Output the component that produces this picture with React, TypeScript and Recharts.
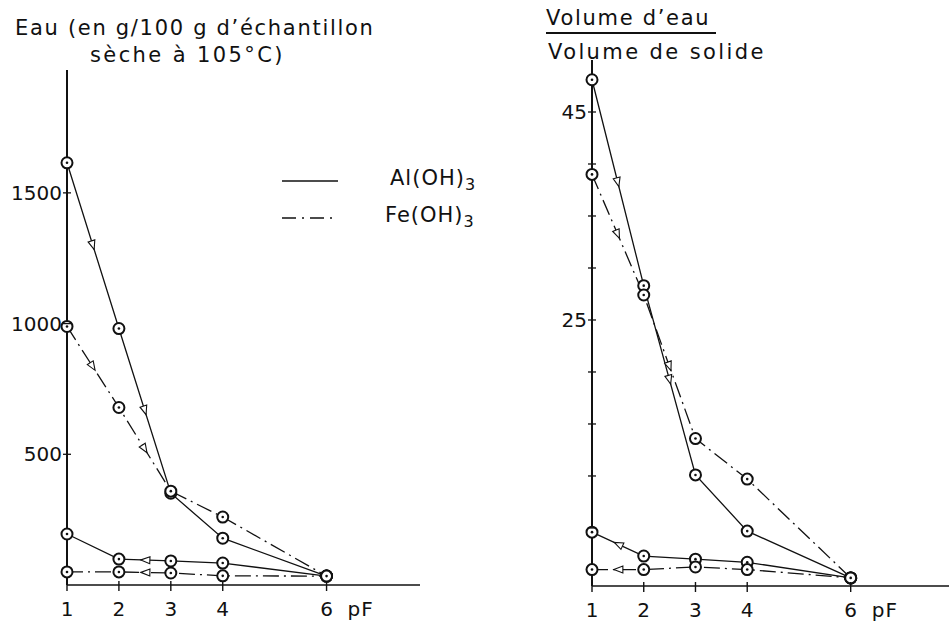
import React from 'react';
import { LineChart, Line, XAxis, YAxis, Legend } from 'recharts';

// pF steps (x axis)
const pF = [1, 2, 3, 4, 6];
const xTicks = [1, 2, 3, 4, 6];

// left panel: Eau en g/100 g d'échantillon sèche à 105°C
const leftAlDry = [1615, 981, 351, 179, 34];
const leftAlWet = [195, 99, 92, 84, 34];
const leftFeDry = [989, 679, 359, 260, 34];
const leftFeWet = [50, 50, 46, 35, 34];
const leftYTicks = [500, 1000, 1500];

// right panel: volume d'eau / volume de solide
const rightAlDry = [48.1, 28.3, 10.1, 4.7, 0.2];
const rightAlWet = [4.6, 2.3, 2.0, 1.7, 0.2];
const rightFeDry = [39.0, 27.4, 13.6, 9.7, 0.2];
const rightFeWet = [1.0, 1.0, 1.25, 1.0, 0.2];
const rightYTicks = [5, 10, 15, 20, 25, 30, 35, 40, 45];
const rightYLabels = [25, 45];

const seriesNames = ['Al(OH)', 'Fe(OH)'];

const FONT = '"DejaVu Sans", sans-serif';
const DASH_DOT = '16 5 2 5';

function buildRows(alDry: number[], alWet: number[], feDry: number[], feWet: number[]) {
  return pF.map((p, i) => ({ pF: p, alDry: alDry[i], alWet: alWet[i], feDry: feDry[i], feWet: feWet[i] }));
}

const leftData = buildRows(leftAlDry, leftAlWet, leftFeDry, leftFeWet);
const rightData = buildRows(rightAlDry, rightAlWet, rightFeDry, rightFeWet);

// circle marker, plus an open arrowhead halfway along the chosen segments
function makeDot(arrowSegs: number[], backwards: boolean) {
  return (props: any) => {
    const { cx, cy, index, points } = props;
    let arrow = null;
    if (points && arrowSegs.includes(index) && points[index + 1]) {
      const a = points[index];
      const b = points[index + 1];
      const mx = (a.x + b.x) / 2;
      const my = (a.y + b.y) / 2;
      let ang = Math.atan2(b.y - a.y, b.x - a.x);
      if (backwards) ang += Math.PI;
      const deg = (ang * 180) / Math.PI;
      arrow = (
        <polygon
          points="4,0 -5,-3.5 -5,3.5"
          transform={`translate(${mx},${my}) rotate(${deg})`}
          fill="#fff"
          stroke="#111"
          strokeWidth={1.1}
        />
      );
    }
    return (
      <g key={`d-${index}`}>
        {arrow}
        <circle cx={cx} cy={cy} r={5.5} fill="#fff" stroke="#111" strokeWidth={2} />
        <circle cx={cx} cy={cy} r={1.3} fill="#111" />
      </g>
    );
  };
}

function XTick(props: any) {
  const { x, y, payload } = props;
  return (
    <g>
      <line x1={x} x2={x} y1={y - 4} y2={y + 6} stroke="#111" strokeWidth={1.4} />
      <text x={x} y={y + 31} textAnchor="middle" fontFamily={FONT} fontSize={20} fill="#111">
        {payload.value}
      </text>
      {payload.value === 6 && (
        <text x={x + 21} y={y + 31} textAnchor="start" fontFamily={FONT} fontSize={20} fill="#111" letterSpacing={1}>
          pF
        </text>
      )}
    </g>
  );
}

function makeYTick(labels: number[] | null) {
  return (props: any) => {
    const { x, y, payload } = props;
    const show = labels === null || labels.includes(payload.value);
    return (
      <g>
        <line x1={x - 4} x2={x + 4} y1={y} y2={y} stroke="#111" strokeWidth={1.3} />
        {show && (
          <text x={x - 5} y={y + 7} textAnchor="end" fontFamily={FONT} fontSize={20} fill="#111">
            {payload.value}
          </text>
        )}
      </g>
    );
  };
}

function LegendBox() {
  const row = (dash: string | undefined, name: string, indent: number) => (
    <div style={{ display: 'flex', alignItems: 'center', height: 37 }}>
      <svg width={60} height={10}>
        <line x1={2} x2={58} y1={5} y2={5} stroke="#111" strokeWidth={1.6} strokeDasharray={dash} />
      </svg>
      <span style={{ marginLeft: 45 + indent, fontFamily: FONT, fontSize: 21, color: '#111', letterSpacing: 1 }}>
        {name}
        <sub style={{ fontSize: 16 }}>3</sub>
      </span>
    </div>
  );
  return (
    <div>
      {row(undefined, seriesNames[0], 5)}
      {row('14 6 2 6', seriesNames[1], 0)}
    </div>
  );
}

function Panel({ data, yDomain, yTicks, yLabels, xDomain, top, bottom, left, width, legend }: any) {
  return (
    <LineChart
      width={width}
      height={628}
      data={data}
      margin={{ top, right: width === 440 ? 20 : 0, left, bottom: 0 }}
    >
      <XAxis
        type="number"
        dataKey="pF"
        domain={xDomain}
        ticks={xTicks}
        height={bottom}
        tickSize={0}
        tickMargin={0}
        tickLine={false}
        axisLine={{ stroke: '#111', strokeWidth: 1.6 }}
        tick={<XTick />}
      />
      <YAxis
        type="number"
        domain={yDomain}
        ticks={yTicks}
        width={60}
        tickSize={0}
        tickMargin={0}
        tickLine={false}
        allowDataOverflow
        axisLine={{ stroke: '#111', strokeWidth: 2 }}
        tick={makeYTick(yLabels)}
      />
      {legend && (
        <Legend
          layout="vertical"
          align="center"
          verticalAlign="middle"
          wrapperStyle={{ left: 280, top: 162, width: 230, height: 80 }}
          content={() => <LegendBox />}
        />
      )}
      <Line dataKey="alDry" name="Al(OH)3" stroke="#111" strokeWidth={1.3} dot={makeDot([0, 1], false)} isAnimationActive={false} />
      <Line dataKey="feDry" name="Fe(OH)3" stroke="#111" strokeWidth={1.3} strokeDasharray={DASH_DOT} dot={makeDot([0, 1], false)} isAnimationActive={false} />
      <Line dataKey="alWet" legendType="none" stroke="#111" strokeWidth={1.3} dot={makeDot(legend ? [1] : [0], true)} isAnimationActive={false} />
      <Line dataKey="feWet" legendType="none" stroke="#111" strokeWidth={1.3} strokeDasharray={DASH_DOT} dot={makeDot(legend ? [1] : [0], true)} isAnimationActive={false} />
    </LineChart>
  );
}

export default function App() {
  const title: React.CSSProperties = { position: 'absolute', fontFamily: FONT, fontSize: 21, color: '#111', whiteSpace: 'nowrap', letterSpacing: 1.7, lineHeight: '24px' };
  return (
    <div style={{ position: 'absolute', left: 0, top: 0, width: 949, height: 628, background: '#fff', overflow: 'hidden' }}>
      <div style={{ position: 'absolute', left: 0, top: 0 }}>
        <Panel data={leftData} yDomain={[0, 1970]} yTicks={leftYTicks} yLabels={null} xDomain={[1, 7.8]} top={70} bottom={43} left={7} width={440} legend />
      </div>
      <div style={{ position: 'absolute', left: 520, top: 0 }}>
        <Panel data={rightData} yDomain={[-0.58, 50]} yTicks={rightYTicks} yLabels={rightYLabels} xDomain={[1, 7.9]} top={60} bottom={42} left={12} width={429} legend={false} />
      </div>
      <div style={{ ...title, left: 15, top: 16 }}>Eau (en g/100 g d’échantillon</div>
      <div style={{ ...title, left: 90, top: 43, letterSpacing: 2.4 }}>sèche à 105°C)</div>
      <div style={{ ...title, left: 546, top: 6, borderBottom: '2px solid #111', paddingBottom: 2, paddingRight: 6 }}>Volume d’eau</div>
      <div style={{ ...title, left: 548, top: 40, letterSpacing: 2.4 }}>Volume de solide</div>
    </div>
  );
}
